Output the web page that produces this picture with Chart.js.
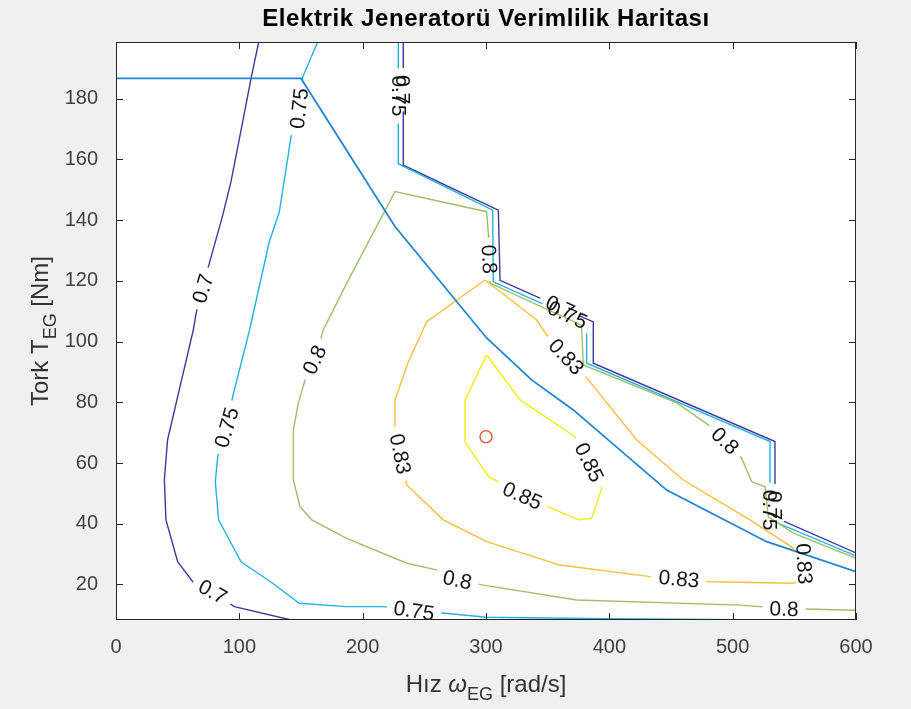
<!DOCTYPE html>
<html>
<head>
<meta charset="utf-8">
<script src="https://cdn.jsdelivr.net/npm/chart.js@4.4.0/dist/chart.umd.min.js"></script>
<style>
    html, body { margin: 0; padding: 0; background: #f0f0f0; }
    #wrap { width: 911px; height: 709px; }
</style>
</head>
<body>
<div id="wrap"><canvas id="effMap" width="911" height="709"></canvas></div>
<script>
// ==== DATA: [hız rad/s, tork Nm] ====
const xTicks = [0, 100, 200, 300, 400, 500, 600];
const yTicks = [20, 40, 60, 80, 100, 120, 140, 160, 180];

// 0.7 level
const contour070Left = [
    [115.7, 198.7], [109.5, 186.7], [102.7, 172.4], [93.2, 152.6], [86.5, 141.6],
    [75.6, 125.7], [69.6, 117.5], [64.9, 109.2], [62.7, 103.9], [50, 81.9],
    [41.8, 67.6], [39.2, 54.4], [40.5, 41.3], [50, 27.5], [62.2, 20.9],
    [78.4, 17.3], [96, 12.7], [142, 8.3],
];
const contour070Edge = [
    [232.9, 198.7], [232.9, 158.1], [310, 143.3], [311.4, 120.2], [387, 106.5],
    [387, 92.9], [534.3, 67.1], [534.3, 42.1], [600, 30.4],
];
// 0.75 level
const contour075Left = [
    [163.5, 198.7], [151.4, 187.2], [148.6, 176.8], [141.9, 167.4], [132.4, 142.7],
    [124.3, 132.9], [108.1, 103.5], [94.6, 81.9], [89.5, 71.8], [82.5, 62.1],
    [80.5, 53.9], [83.2, 41.3], [101.4, 27.5], [127, 20.4], [148.6, 13.8],
    [186.5, 12.7], [216.7, 12.7], [241.6, 11.2], [266.8, 10.5], [300.5, 9.2],
    [400, 8.7], [537, 8.3],
];
const contour075Edge = [
    [228.9, 198.7], [228.9, 158.6], [305.4, 143.3], [305.9, 119.7], [381.6, 106],
    [381.6, 92.9], [530.3, 67.1], [530.3, 41.3], [600, 29.4],
];
// 0.8 level
const contour080 = [
    [600, 11.5], [541.7, 12.1], [506, 13.2], [373.5, 14.9], [297.8, 19.8],
    [276.8, 21.6], [259.9, 24.8], [235.8, 27], [187, 35.2], [158.7, 41.3],
    [149.2, 45.6], [143.8, 54.4], [143.8, 70.9], [147.8, 79.7], [153.3, 87.4],
    [161, 94], [168.1, 103.9], [187, 119.2], [226.2, 149.4], [300.5, 142.8],
    [302, 135.2], [302.3, 127.1], [303.2, 119.3], [377.4, 105.4], [378.9, 92.3],
    [454.6, 79.8], [480.2, 72.6], [493.8, 67.3], [507.3, 61.6], [515.4, 53.9],
    [526.2, 52.2], [528.9, 42.3], [549.2, 36.9], [600, 28.6],
];
// 0.83 level
const contour083 = [
    [549.2, 20.4], [481.6, 20.9], [456.5, 21.7], [433, 22.6], [360, 26.4],
    [300.5, 34.1], [265.4, 41.3], [235.7, 52.8], [226.2, 72], [226.2, 80.8],
    [237.1, 93.4], [251.9, 106.6], [299.2, 120.3], [341.1, 107.1], [349.2, 102.2],
    [365, 95.3], [383, 87.4], [422.2, 67.6], [460, 54.4], [514, 41.3],
    [549.2, 32], [556, 28.5], [557, 22], [549.2, 20.4],
];
// 0.85 level
const contour085 = [
    [300.5, 95.6], [283, 80.8], [283, 67], [302, 55.5], [310, 53.9],
    [329.5, 49.4], [353.3, 45.1], [375, 41.3], [385.7, 41.8], [393.8, 51.7],
    [383.6, 60.2], [372.2, 68.7], [327.6, 80.8], [300.5, 95.6],
];
// maximum torque / power curve
const limitCurve = [
    [0, 186.7], [150, 186.7], [226.2, 137.9], [300.5, 101.2], [337, 87.4],
    [370.8, 77.5], [446.5, 51.1], [527.6, 34.1], [600, 24.2],
];
// best efficiency point
const bestPoint = [[300, 68.7]];

// contour label positions
const labels070Left = [[70.5, 117.5], [78.4, 17.6]];
const labels070Edge = [[232.9, 183], [360, 111.4], [534.3, 46]];
const labels075Left = [[148.6, 176.8], [89.8, 71.7], [241.6, 11.3]];
const labels075Edge = [[228.9, 180.9], [366, 108.8], [530.3, 44.5]];
const labels080 = [[541.7, 11.9], [276.8, 21.5], [161, 94], [302.5, 127.1], [493.8, 67.3]];
const labels083 = [[456.5, 21.8], [230.5, 63], [365, 95], [557.9, 26.8]];
const labels085 = [[329.5, 49.2], [383.6, 60.2]];

// ==== STYLE ====
const FONT = "'Liberation Sans', Arial, Helvetica, sans-serif";
const LABEL_SIZE = 21;
const colors = {
    c70: "#40379a",
    c75: "#22b2e3",
    c80: "#9dc06a",
    c83: "#f9bf3b",
    c85: "#eeee12",
    limit: "#2185d0",
    best: "#e0532a",
};

const toXY = (arr) => arr.map((p) => ({ x: p[0], y: p[1] }));

function contourSet(pts, color, labels, text) {
    return {
        data: toXY(pts),
        borderColor: color,
        borderWidth: 1.4,
        showLine: true,
        pointRadius: 0,
        tension: 0,
        fill: false,
        labelPts: labels,
        labelText: text,
    };
}

// ==== Vị trí + góc của nhãn đường đồng mức ====
function distToSeg(x, y, a, b) {
    const dx = b[0] - a[0], dy = b[1] - a[1];
    const len2 = dx * dx + dy * dy;
    let t = len2 ? ((x - a[0]) * dx + (y - a[1]) * dy) / len2 : 0;
    t = Math.max(0, Math.min(1, t));
    const px = a[0] + t * dx, py = a[1] + t * dy;
    return Math.hypot(x - px, y - py);
}

function labelGeometry(chart, ds) {
    const xs = chart.scales.x, ys = chart.scales.y;
    const px = ds.data.map((p) => [xs.getPixelForValue(p.x), ys.getPixelForValue(p.y)]);
    return ds.labelPts.map((l) => {
        const cx = xs.getPixelForValue(l[0]);
        const cy = ys.getPixelForValue(l[1]);
        let best = Infinity, ang = 0;
        for (let i = 0; i < px.length - 1; i++) {
            const d = distToSeg(cx, cy, px[i], px[i + 1]);
            if (d < best) {
                best = d;
                ang = Math.atan2(px[i + 1][1] - px[i][1], px[i + 1][0] - px[i][0]);
            }
        }
        if (ang > Math.PI / 2 + 1e-6) ang -= Math.PI;
        if (ang <= -Math.PI / 2 + 1e-6) ang += Math.PI;
        return { cx, cy, ang };
    });
}

// cut the line where the label sits, then write the label
const contourLabelPlugin = {
    id: "contourLabels",
    beforeDatasetDraw(chart, args) {
        const ds = chart.data.datasets[args.index];
        if (!ds.labelPts) return;
        const ctx = chart.ctx;
        ctx.save();
        ctx.font = LABEL_SIZE + "px " + FONT;
        const w = ctx.measureText(ds.labelText).width / 2 + 7;
        const h = LABEL_SIZE * 0.42;
        ctx.beginPath();
        ctx.rect(0, 0, chart.width, chart.height);
        labelGeometry(chart, ds).forEach((g) => {
            const c = Math.cos(g.ang), s = Math.sin(g.ang);
            const corners = [[-w, -h], [w, -h], [w, h], [-w, h]].map((q) => [
                g.cx + q[0] * c - q[1] * s,
                g.cy + q[0] * s + q[1] * c,
            ]);
            ctx.moveTo(corners[0][0], corners[0][1]);
            for (let i = 1; i < 4; i++) ctx.lineTo(corners[i][0], corners[i][1]);
            ctx.closePath();
        });
        ctx.clip("evenodd");
    },
    afterDatasetDraw(chart, args) {
        const ds = chart.data.datasets[args.index];
        if (!ds.labelPts) return;
        chart.ctx.restore();
    },
    afterDatasetsDraw(chart) {
        const ctx = chart.ctx;
        ctx.save();
        ctx.font = LABEL_SIZE + "px " + FONT;
        ctx.fillStyle = "#141414";
        ctx.textAlign = "center";
        ctx.textBaseline = "middle";
        chart.data.datasets.forEach((ds) => {
            if (!ds.labelPts) return;
            labelGeometry(chart, ds).forEach((g) => {
                ctx.save();
                ctx.translate(g.cx, g.cy);
                ctx.rotate(g.ang);
                ctx.fillText(ds.labelText, 0, 1);
                ctx.restore();
            });
        });
        ctx.restore();
    },
};

// text with subscript / italic parts, centred on the current origin
function drawRich(ctx, parts, size) {
    let total = 0;
    const fonts = parts.map((p) => {
        const s = p[1] === "sub" ? Math.round(size * 0.75) : size;
        const f = (p[1] === "i" ? "italic " : "") + s + "px " + FONT;
        ctx.font = f;
        const w = ctx.measureText(p[0]).width;
        total += w;
        return { f, w };
    });
    let x = -total / 2;
    parts.forEach((p, i) => {
        ctx.font = fonts[i].f;
        ctx.fillText(p[0], x, p[1] === "sub" ? size * 0.33 : 0);
        x += fonts[i].w;
    });
}

// white axes, box, inward ticks, title and axis titles
const axesPlugin = {
    id: "matlabAxes",
    beforeDraw(chart) {
        const { ctx, chartArea: a } = chart;
        ctx.save();
        ctx.fillStyle = "#ffffff";
        ctx.fillRect(a.left, a.top, a.right - a.left, a.bottom - a.top);
        ctx.restore();
    },
    afterDraw(chart) {
        const { ctx, chartArea: a, scales } = chart;
        ctx.save();
        ctx.strokeStyle = "#262626";
        ctx.lineWidth = 1;
        ctx.strokeRect(a.left + 0.5, a.top + 0.5, a.right - a.left - 1, a.bottom - a.top - 1);
        const tl = 7;
        ctx.beginPath();
        xTicks.forEach((v) => {
            const x = Math.round(scales.x.getPixelForValue(v)) + 0.5;
            ctx.moveTo(x, a.bottom); ctx.lineTo(x, a.bottom - tl);
            ctx.moveTo(x, a.top); ctx.lineTo(x, a.top + tl);
        });
        yTicks.forEach((v) => {
            const y = Math.round(scales.y.getPixelForValue(v)) + 0.5;
            ctx.moveTo(a.left, y); ctx.lineTo(a.left + tl, y);
            ctx.moveTo(a.right, y); ctx.lineTo(a.right - tl, y);
        });
        ctx.stroke();

        const cx = (a.left + a.right) / 2;
        const cy = (a.top + a.bottom) / 2;
        ctx.fillStyle = "#000000";
        ctx.textAlign = "center";
        ctx.textBaseline = "middle";
        ctx.font = "bold 24px " + FONT;
        ctx.letterSpacing = "0.6px";
        ctx.fillText("Elektrik Jeneratorü Verimlilik Haritası", cx, 19);
        ctx.letterSpacing = "0px";

        ctx.fillStyle = "#333333";
        ctx.textAlign = "left";
        ctx.textBaseline = "alphabetic";
        ctx.save();
        ctx.translate(cx, 692);
        drawRich(ctx, [["Hız ", ""], ["ω", "i"], ["EG", "sub"], [" [rad/s]", ""]], 24);
        ctx.restore();

        ctx.save();
        ctx.translate(48, cy);
        ctx.rotate(-Math.PI / 2);
        drawRich(ctx, [["Tork T", ""], ["EG", "sub"], [" [Nm]", ""]], 24);
        ctx.restore();
        ctx.restore();
    },
};

const tickFont = { family: FONT, size: 20 };

new Chart(document.getElementById("effMap").getContext("2d"), {
    type: "scatter",
    data: {
        datasets: [
            {
                data: toXY(bestPoint),
                pointStyle: "circle",
                pointRadius: 6,
                borderColor: colors.best,
                backgroundColor: "rgba(0,0,0,0)",
                borderWidth: 1.4,
                showLine: false,
            },
            {
                data: toXY(limitCurve),
                borderColor: colors.limit,
                borderWidth: 1.8,
                showLine: true,
                pointRadius: 0,
                tension: 0,
            },
            contourSet(contour085, colors.c85, labels085, "0.85"),
            contourSet(contour083, colors.c83, labels083, "0.83"),
            contourSet(contour080, colors.c80, labels080, "0.8"),
            contourSet(contour075Left, colors.c75, labels075Left, "0.75"),
            contourSet(contour075Edge, colors.c75, labels075Edge, "0.75"),
            contourSet(contour070Left, colors.c70, labels070Left, "0.7"),
            contourSet(contour070Edge, colors.c70, labels070Edge, "0.7"),
        ],
    },
    options: {
        responsive: false,
        animation: false,
        events: [],
        layout: { padding: { top: 42, right: 55, left: 0, bottom: 0 } },
        plugins: {
            legend: { display: false },
            title: { display: false },
            tooltip: { enabled: false },
        },
        scales: {
            x: {
                type: "linear",
                min: 0,
                max: 600,
                afterBuildTicks: (s) => { s.ticks = xTicks.map((v) => ({ value: v })); },
                afterFit: (s) => { s.height = 89; },
                grid: { display: false, drawTicks: false },
                border: { display: false },
                ticks: { padding: 15, color: "#404040", font: tickFont, maxRotation: 0, autoSkip: false },
            },
            y: {
                type: "linear",
                min: 8.3,
                max: 198.7,
                afterBuildTicks: (s) => { s.ticks = yTicks.map((v) => ({ value: v })); },
                afterFit: (s) => { s.width = 116; },
                grid: { display: false, drawTicks: false },
                border: { display: false },
                ticks: { padding: 18, color: "#404040", font: tickFont, autoSkip: false },
            },
        },
    },
    plugins: [axesPlugin, contourLabelPlugin],
});
</script>
</body>
</html>
